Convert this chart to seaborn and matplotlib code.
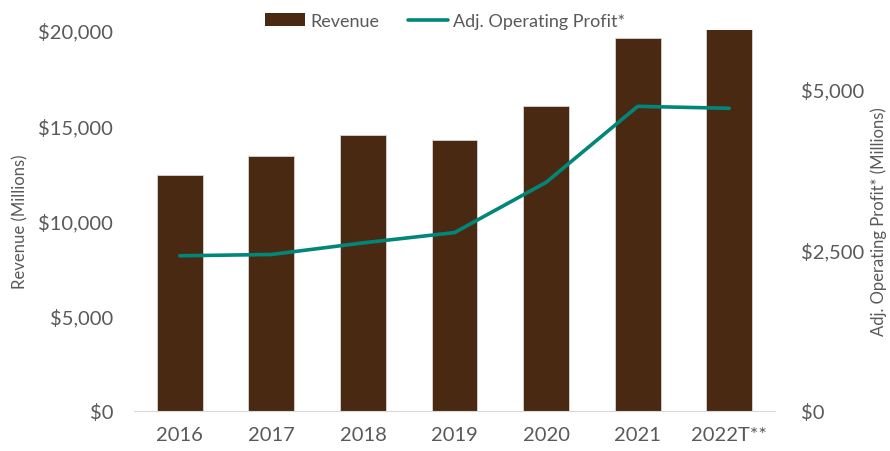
import matplotlib
matplotlib.use("Agg")
import matplotlib.pyplot as plt
import matplotlib.ticker as mticker
from matplotlib.patches import Patch
from matplotlib.lines import Line2D
import seaborn as sns
import pandas as pd

# data (millions of dollars)
years = ["2016", "2017", "2018", "2019", "2020", "2021", "2022T**"]
revenue = [12370, 13370, 14470, 14250, 16000, 19580, 20280]
op_profit = [2410, 2430, 2610, 2770, 3550, 4730, 4700]

bar_color = "#4A2913"
line_color = "#00877A"
text_color = "#595959"

sns.set_style("white")
plt.rcParams["font.family"] = ["Lato", "DejaVu Sans"]

df = pd.DataFrame({"year": years, "revenue": revenue, "profit": op_profit})

fig = plt.figure(figsize=(8.9, 4.52), dpi=100)
ax = fig.add_axes([0.1506, 0.0885, 0.7202, 0.843])

sns.barplot(data=df, x="year", y="revenue", color=bar_color, width=0.5,
            saturation=1, edgecolor="#D9D4D0", linewidth=0.6, ax=ax)
ax.set_xlim(-0.5, len(years) - 0.5)
ax.set_ylim(0, 20000)
ax.set_yticks([0, 5000, 10000, 15000, 20000])
ax.yaxis.set_major_formatter(mticker.FuncFormatter(lambda v, p: f"${v:,.0f}"))

ax2 = ax.twinx()
sns.lineplot(x=list(range(len(years))), y=df["profit"], color=line_color,
             linewidth=2.6, ax=ax2)
ax2.set_ylim(0, 5916)
ax2.set_yticks([0, 2500, 5000])
ax2.yaxis.set_major_formatter(mticker.FuncFormatter(lambda v, p: f"${v:,.0f}"))

for a in (ax, ax2):
    for s in a.spines.values():
        s.set_visible(False)
    a.tick_params(length=0, labelsize=14.5, colors=text_color)
ax.spines["bottom"].set_visible(True)
ax.spines["bottom"].set_color("#D9D9D9")
ax.tick_params(axis="x", pad=11)
ax.tick_params(axis="y", pad=15)
ax2.tick_params(axis="y", pad=19)

ax.set_xlabel("")
ax.set_ylabel("Revenue (Millions)", fontsize=12, color=text_color, labelpad=7)
ax2.set_ylabel("Adj. Operating Profit* (Millions)", fontsize=12,
               color=text_color, labelpad=4)

handles = [Patch(facecolor=bar_color, edgecolor="none"),
           Line2D([0], [0], color=line_color, linewidth=2.6)]
fig.legend(handles, ["Revenue", "Adj. Operating Profit*"], loc="upper center",
           bbox_to_anchor=(0.5, 1.005), ncol=2, frameon=False, fontsize=13,
           labelcolor=text_color, handlelength=2.2, handletextpad=0.3,
           columnspacing=1.6)

fig.savefig("out.png", dpi=100)
